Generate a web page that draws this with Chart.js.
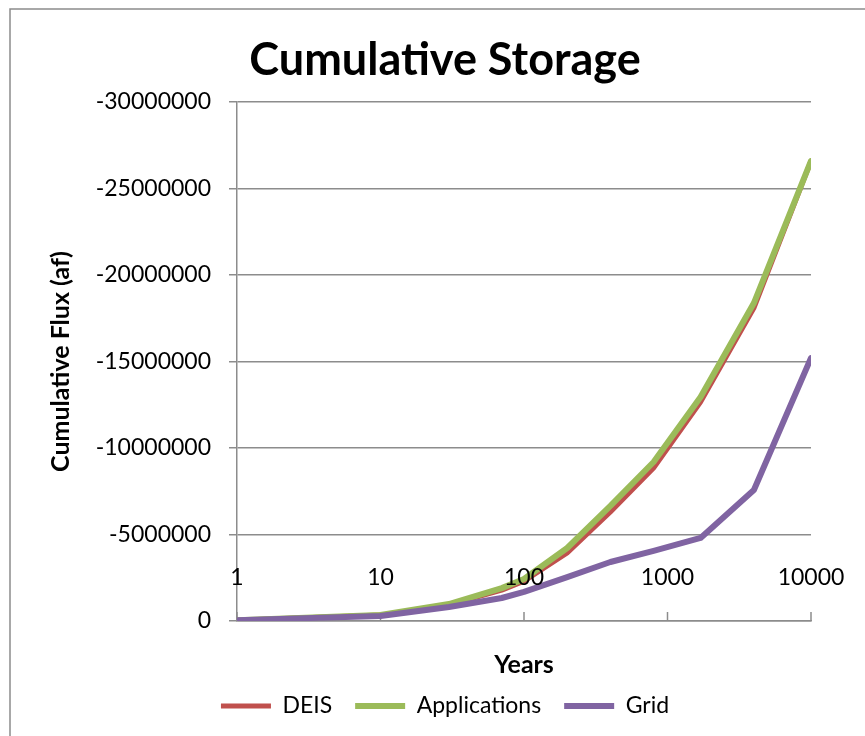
<!DOCTYPE html>
<html>
<head>
<meta charset="utf-8">
<title>Cumulative Storage</title>
<script src="https://cdn.jsdelivr.net/npm/chart.js@4.4.1/dist/chart.umd.min.js"></script>
<style>
  html, body { margin: 0; padding: 0; background: #fff; }
  canvas { display: block; }
</style>
</head>
<body>
<canvas id="myChart" width="865" height="736"></canvas>
<script>
// values
const years = [1, 10, 30, 70, 100, 200, 400, 800, 1700, 4000, 10000];
const deis = [-50000, -340000, -930000, -1780000, -2300000, -3930000, -6300000, -8840000, -12660000, -18090000, -26590000];
const applications = [-50000, -350000, -980000, -1900000, -2430000, -4220000, -6650000, -9190000, -12950000, -18380000, -26590000];
const grid = [-50000, -290000, -810000, -1330000, -1680000, -2540000, -3410000, -4050000, -4800000, -7570000, -15200000];

const xTickValues = [1, 10, 100, 1000, 10000];
const xTickLabels = ["1", "10", "100", "1000", "10000"];

const axisGray = "#8c8c8c";
Chart.defaults.font.family = "Lato, 'Open Sans', sans-serif";
Chart.defaults.color = "#000";

const toPoints = (vals) => years.map((x, i) => ({ x: x, y: vals[i] }));

// background, outer frame, x tick marks and labels drawn over the plot
const decorations = {
  id: "decorations",
  beforeDraw(chart) {
    const ctx = chart.ctx;
    ctx.save();
    ctx.fillStyle = "#fff";
    ctx.fillRect(0, 0, chart.width, chart.height);
    ctx.strokeStyle = axisGray;
    ctx.lineWidth = 1.5;
    ctx.beginPath();
    ctx.moveTo(10, chart.height + 5);
    ctx.lineTo(10, 9);
    ctx.lineTo(chart.width + 5, 9);
    ctx.stroke();
    ctx.restore();
  },
  beforeDatasetsDraw(chart) {
    const ctx = chart.ctx;
    const x = chart.scales.x;
    ctx.save();
    ctx.strokeStyle = axisGray;
    ctx.lineWidth = 1.5;
    xTickValues.forEach((v) => {
      const px = x.getPixelForValue(v);
      ctx.beginPath();
      ctx.moveTo(px, x.top);
      ctx.lineTo(px, x.top - 9);
      ctx.stroke();
    });
    ctx.restore();
  },
  afterDatasetsDraw(chart) {
    const ctx = chart.ctx;
    const x = chart.scales.x;
    ctx.save();
    ctx.fillStyle = "#000";
    ctx.font = "23px Lato, 'Open Sans', sans-serif";
    ctx.textAlign = "center";
    ctx.textBaseline = "middle";
    xTickValues.forEach((v, i) => {
      ctx.fillText(xTickLabels[i], x.getPixelForValue(v), x.top - 43);
    });
    ctx.restore();
  },
};

const ctx = document.getElementById("myChart").getContext("2d");
const myChart = new Chart(ctx, {
  type: "line",
  data: {
    datasets: [
      {
        label: "DEIS",
        data: toPoints(deis),
        borderColor: "#c0504d",
        backgroundColor: "#c0504d",
        borderWidth: 5,
        order: 2,
      },
      {
        label: "Applications",
        data: toPoints(applications),
        borderColor: "#9bbb59",
        backgroundColor: "#9bbb59",
        borderWidth: 6,
        order: 1,
      },
      {
        label: "Grid",
        data: toPoints(grid),
        borderColor: "#8064a2",
        backgroundColor: "#8064a2",
        borderWidth: 6,
        order: 0,
      },
    ],
  },
  options: {
    responsive: false,
    devicePixelRatio: 1,
    animation: false,
    elements: {
      point: { radius: 0, hoverRadius: 0, pointStyle: "line" },
      line: { tension: 0, borderCapStyle: "round", borderJoinStyle: "round" },
    },
    layout: { padding: { left: 79, right: 54, top: 33, bottom: 8.5 } },
    plugins: {
      title: {
        display: true,
        text: "Cumulative Storage",
        font: { size: 45, weight: "bold" },
        color: "#000",
        padding: { top: 0, bottom: 15 },
      },
      legend: {
        position: "bottom",
        labels: {
          usePointStyle: true,
          pointStyle: "line",
          pointStyleWidth: 50,
          font: { size: 23 },
          color: "#000",
          padding: 23,
          sort: (a, b) => a.datasetIndex - b.datasetIndex,
        },
      },
      tooltip: { enabled: false },
    },
    scales: {
      x: {
        type: "logarithmic",
        min: 1,
        max: 10000,
        grid: { display: false, drawTicks: false },
        border: { display: true, color: axisGray, width: 1.5 },
        ticks: { display: false },
        title: {
          display: true,
          text: "Years",
          font: { size: 25, weight: "bold" },
          color: "#000",
          padding: { top: 29, bottom: -8.5 },
        },
      },
      y: {
        min: -30000000,
        max: 0,
        reverse: true,
        ticks: {
          stepSize: 5000000,
          font: { size: 23 },
          color: "#000",
          padding: 18,
          callback: (value) => String(value),
        },
        grid: { color: axisGray, lineWidth: 1.5, tickLength: 8 },
        border: { color: axisGray, width: 1.5 },
        title: {
          display: true,
          text: "Cumulative Flux (af)",
          font: { size: 25, weight: "bold" },
          color: "#000",
          padding: { top: -33, bottom: 0 },
        },
        afterFit: (scale) => {
          scale.width = 158;
        },
      },
    },
  },
  plugins: [decorations],
});
</script>
</body>
</html>
